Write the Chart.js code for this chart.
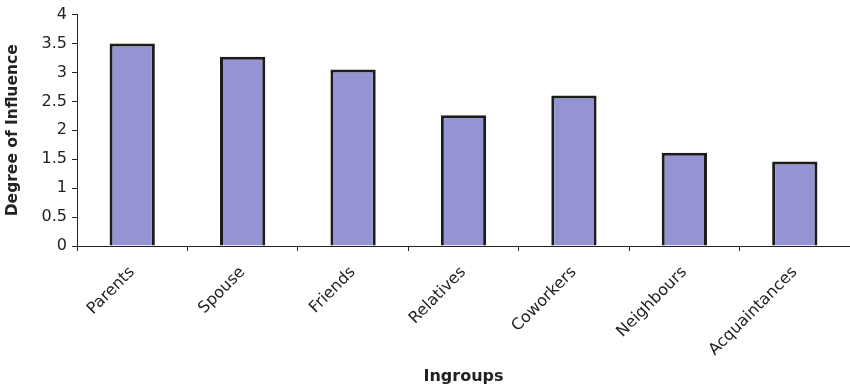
<!DOCTYPE html>
<html>
<head>
<meta charset="utf-8">
<script src="https://cdn.jsdelivr.net/npm/chart.js@4/dist/chart.umd.min.js"></script>
<style>
  html, body { margin: 0; padding: 0; background: #ffffff; }
  #wrap { width: 850px; height: 389px; }
</style>
</head>
<body>
<div id="wrap"><canvas id="c" width="850" height="389"></canvas></div>
<script>
const categories = ["Parents", "Spouse", "Friends", "Relatives", "Coworkers", "Neighbours", "Acquaintances"];
const influence = [3.5, 3.27, 3.05, 2.26, 2.6, 1.61, 1.46];
const yTicks = [0, 0.5, 1, 1.5, 2, 2.5, 3, 3.5, 4];
const yTitle = "Degree of Influence";
const xTitle = "Ingroups";

const FONT = "'DejaVu Sans', 'Liberation Sans', Arial, sans-serif";
const INK = "#222222";

new Chart(document.getElementById('c'), {
  type: 'bar',
  data: {
    labels: categories,
    datasets: [{
      data: influence,
      backgroundColor: '#9494d4',
      borderColor: '#1c1c1c',
      borderWidth: 3,
      borderSkipped: 'start',
      categoryPercentage: 1.0,
      barPercentage: 0.41
    }]
  },
  options: {
    responsive: false,
    animation: false,
    devicePixelRatio: 1,
    layout: { padding: { top: 13, right: 0, bottom: 0, left: 0 } },
    plugins: { legend: { display: false }, tooltip: { enabled: false } },
    scales: {
      x: {
        afterFit: (s) => { s.height = 389 - 246; },
        grid: { display: true, drawOnChartArea: false, drawTicks: true, tickLength: 5, color: INK, offset: true },
        border: { display: true, color: INK, width: 1 },
        ticks: {
          color: INK, font: { family: FONT, size: 16 },
          minRotation: 45, maxRotation: 45, padding: 12, autoSkip: false
        },
        title: {
          display: true, text: xTitle, color: INK,
          font: { family: FONT, size: 16, weight: 'bold' },
          padding: { top: 4, bottom: 3 }
        }
      },
      y: {
        min: yTicks[0], max: yTicks[yTicks.length - 1],
        afterFit: (s) => { s.width = 77; },
        afterBuildTicks: (s) => { s.ticks = yTicks.map(v => ({ value: v })); },
        grid: { display: true, drawOnChartArea: false, drawTicks: true, tickLength: 5, color: INK },
        border: { display: true, color: INK, width: 1 },
        ticks: {
          color: INK, font: { family: FONT, size: 16 }, padding: 5,
          callback: (v) => String(v)
        },
        title: {
          display: true, text: yTitle, color: INK,
          font: { family: FONT, size: 15.5, weight: 'bold' },
          padding: { top: 4, bottom: 4 }
        }
      }
    }
  }
});
</script>
</body>
</html>
